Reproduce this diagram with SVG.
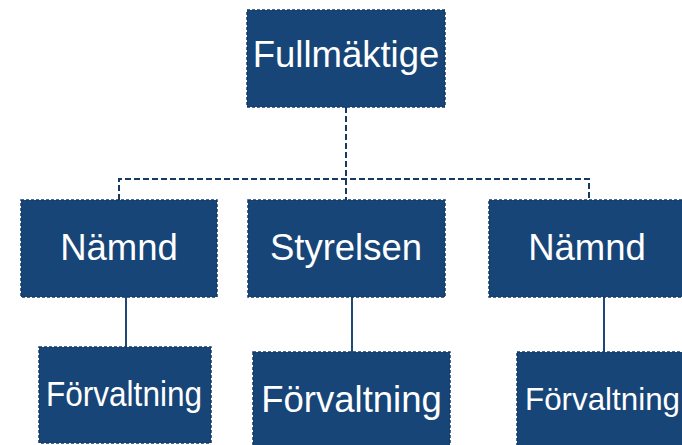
<svg xmlns="http://www.w3.org/2000/svg" width="682" height="445" viewBox="0 0 682 445">
<style>
.box{fill:#174577;stroke:#143a66;stroke-width:1.5;stroke-dasharray:3 2}
.t{fill:#ffffff;font-family:"Liberation Sans",Arial,sans-serif;text-anchor:middle}
.dash{fill:none;stroke:#173a63;stroke-width:2;stroke-dasharray:6 3}
.solid{fill:none;stroke:#1d4878;stroke-width:2}
</style>
<rect width="682" height="445" fill="#ffffff"/>
<g id="connectors">
<path class="dash" d="M346 107 V179 M119 200 V179 H589 V200 M346 179 V200"/>
<path class="solid" d="M126 297 V347 M352 297 V352 M604 297 V352"/>
</g>
<g id="fullmaktige">
<rect class="box" x="247" y="10" width="198" height="97"/>
<text class="t" x="346" y="67" font-size="36.5">Fullmäktige</text>
</g>
<g id="namnd-left">
<rect class="box" x="21" y="200" width="196" height="97"/>
<text class="t" x="119" y="260" font-size="36.5">Nämnd</text>
</g>
<g id="styrelsen">
<rect class="box" x="248" y="200" width="197" height="97"/>
<text class="t" x="346" y="260" font-size="36.5">Styrelsen</text>
</g>
<g id="namnd-right">
<rect class="box" x="489" y="200" width="200" height="97"/>
<text class="t" x="587" y="260" font-size="36.5">Nämnd</text>
</g>
<g id="forvaltning-left">
<rect class="box" x="39" y="347" width="172" height="96"/>
<text class="t" x="124" y="406" font-size="35" textLength="156" lengthAdjust="spacingAndGlyphs">Förvaltning</text>
</g>
<g id="forvaltning-middle">
<rect class="box" x="253" y="352" width="197" height="97"/>
<text class="t" x="351.5" y="412" font-size="36.5">Förvaltning</text>
</g>
<g id="forvaltning-right">
<rect class="box" x="517" y="352" width="170" height="97"/>
<text class="t" x="602.5" y="410" font-size="32" textLength="155" lengthAdjust="spacingAndGlyphs">Förvaltning</text>
</g>
</svg>
